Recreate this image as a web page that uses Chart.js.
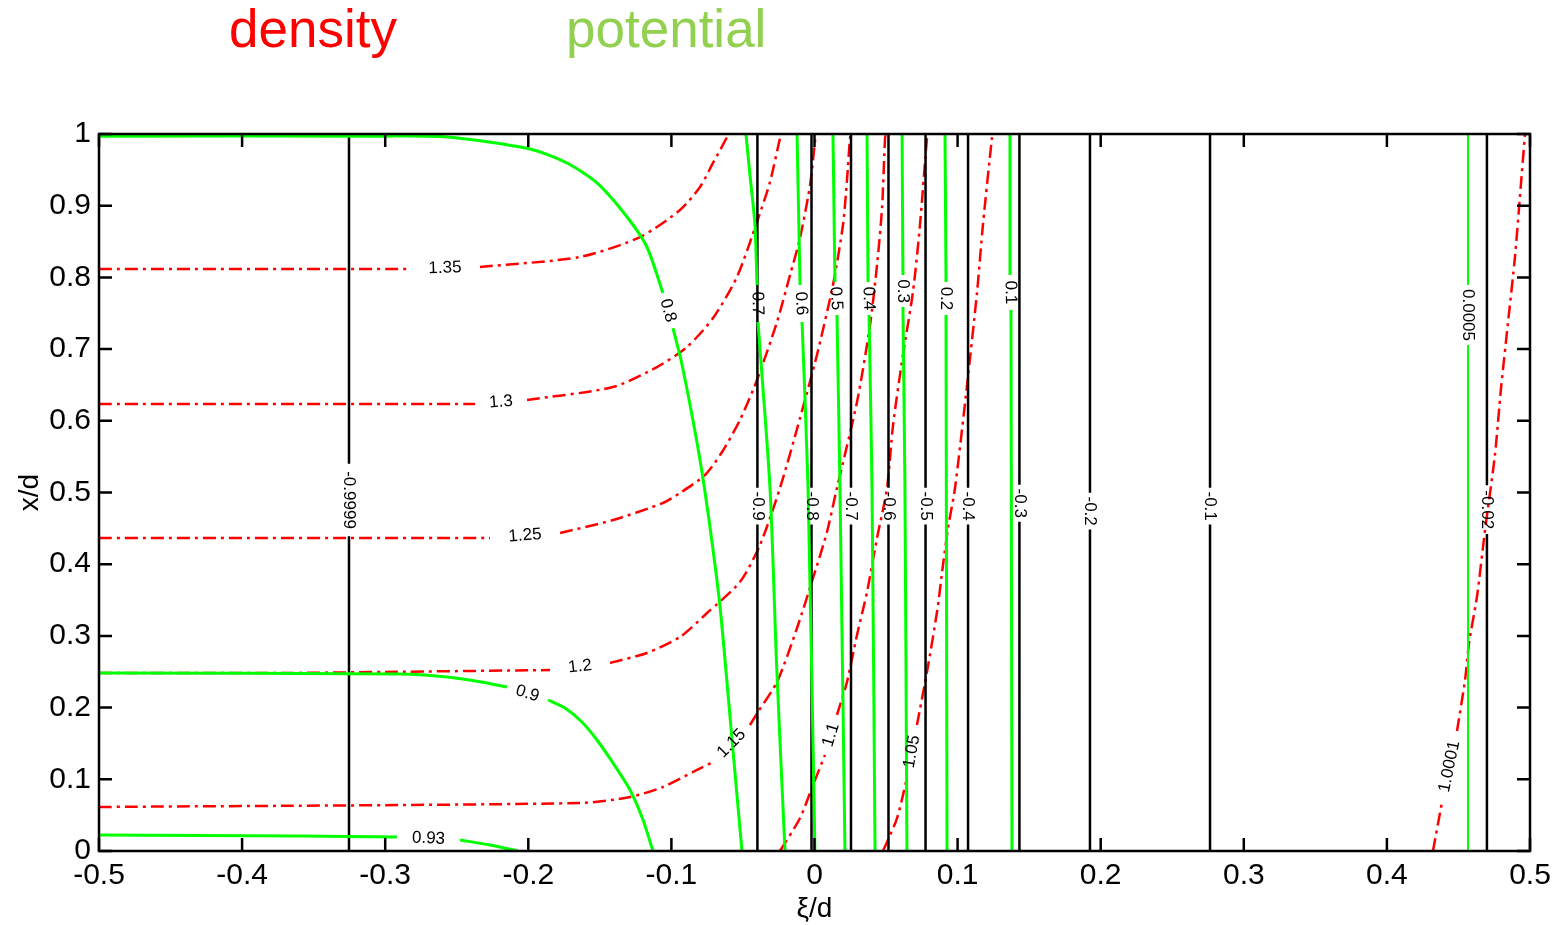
<!DOCTYPE html>
<html>
<head>
<meta charset="utf-8">
<script src="https://cdn.jsdelivr.net/npm/chart.js@4.4.0/dist/chart.umd.min.js"></script>
<style>
  html, body { margin: 0; padding: 0; background: #ffffff; }
  canvas { display: block; }
</style>
</head>
<body>
<canvas id="c" width="1566" height="925"></canvas>
<script>
// ---- axis ticks ----
const xTickValues = [-0.5, -0.4, -0.3, -0.2, -0.1, 0, 0.1, 0.2, 0.3, 0.4, 0.5];
const xTickLabels = ['-0.5', '-0.4', '-0.3', '-0.2', '-0.1', '0', '0.1', '0.2', '0.3', '0.4', '0.5'];
const yTickValues = [0, 0.1, 0.2, 0.3, 0.4, 0.5, 0.6, 0.7, 0.8, 0.9, 1];
const yTickLabels = ['0', '0.1', '0.2', '0.3', '0.4', '0.5', '0.6', '0.7', '0.8', '0.9', '1'];

// ---- density contours [xi/d, x/d]; null = break where the level label sits ----
const density135 = [[-0.5, 0.8117], [-0.2827, 0.8117], null, [-0.2338, 0.8145], [-0.1639, 0.8285], [-0.1219, 0.8563], [-0.0940, 0.8940], [-0.0800, 0.9261], [-0.0709, 0.9596], [-0.0611, 0.9958], [-0.0604, 1.0]];
const density130 = [[-0.5, 0.6234], [-0.2372, 0.6234], null, [-0.2009, 0.6290], [-0.1408, 0.6471], [-0.1101, 0.6750], [-0.0891, 0.7029], [-0.0709, 0.7434], [-0.0542, 0.8006], [-0.0402, 0.8773], [-0.0311, 0.9331], [-0.0241, 0.9944], [-0.0234, 1.0]];
const density125 = [[-0.5, 0.4365], [-0.2268, 0.4365], null, [-0.1778, 0.4435], [-0.1408, 0.4616], [-0.1059, 0.4854], [-0.0940, 0.4993], [-0.0765, 0.5244], [-0.0646, 0.5565], [-0.0521, 0.6011], [-0.0402, 0.6569], [-0.0262, 0.7378], [-0.0171, 0.8033], [-0.0101, 0.8550], [-0.0031, 0.9289], [0.0003, 0.9888], [0.0010, 1.0]];
const density120 = [[-0.5, 0.2483], [-0.37, 0.2483], [-0.30, 0.2497], [-0.1848, 0.2524], null, [-0.1429, 0.2622], [-0.1171, 0.2762], [-0.0940, 0.2985], [-0.0751, 0.3319], [-0.0521, 0.3752], [-0.0381, 0.4268], [-0.0241, 0.5063], [-0.0101, 0.6039], [0.0017, 0.6918], [0.0129, 0.7894], [0.0199, 0.8731], [0.0227, 0.9358], [0.0248, 0.9944], [0.0255, 1.0]];
const density115 = [[-0.5, 0.0614], [-0.1639, 0.0669], [-0.1289, 0.0753], [-0.1059, 0.0893], [-0.0821, 0.1130], [-0.0709, 0.1241], null, [-0.0451, 0.1757], [-0.0395, 0.1939], [-0.0262, 0.2357], [-0.0122, 0.3110], [-0.0010, 0.3808], [0.0087, 0.4449], [0.0157, 0.5063], [0.0297, 0.6262], [0.0388, 0.7336], [0.0437, 0.8173], [0.0472, 0.8968], [0.0493, 0.9944], [0.0500, 1.0]];
const density110 = [[-0.0241, 0], [-0.0101, 0.0460], [-0.0010, 0.0921], [0.0073, 0.1339], null, [0.0157, 0.1897], [0.0227, 0.2357], [0.0297, 0.3013], [0.0367, 0.3612], [0.0437, 0.4365], [0.0507, 0.5063], [0.0549, 0.5941], [0.0618, 0.6918], [0.0688, 0.7796], [0.0737, 0.8731], [0.0786, 0.9944], [0.0793, 1.0]];
const density105 = [[0.0479, 0], [0.0577, 0.0460], [0.0646, 0.1018], null, [0.0716, 0.1757], [0.0786, 0.2497], [0.0856, 0.3333], [0.0898, 0.3989], [0.0933, 0.4505], [0.0982, 0.5063], [0.1066, 0.6499], [0.1136, 0.7796], [0.1177, 0.8731], [0.1240, 0.9944], [0.1247, 1.0]];
const density10001 = [[0.4322, 0], [0.4385, 0.0683], null, [0.4490, 0.1674], [0.4546, 0.2385], [0.4574, 0.2901], [0.4630, 0.3556], [0.4686, 0.4477], [0.4755, 0.5523], [0.4797, 0.6444], [0.4846, 0.7364], [0.4895, 0.8285], [0.4930, 0.9135], [0.4965, 1.0]];
const densityLevels = ['1.35', '1.3', '1.25', '1.2', '1.15', '1.1', '1.05', '1.0001'];
const densityCurves = [density135, density130, density125, density120, density115, density110, density105, density10001];

// ---- potential contours ----
const potential08 = [[-0.5, 0.997], [-0.3036, 0.997], [-0.2568, 0.9958], [-0.1988, 0.9791], [-0.1730, 0.9596], [-0.1520, 0.9317], [-0.1310, 0.8842], [-0.1171, 0.8424], [-0.1059, 0.7782], null, [-0.0989, 0.7294], [-0.0933, 0.6848], [-0.0863, 0.6151], [-0.0800, 0.5453], [-0.0737, 0.4616], [-0.0660, 0.3403], [-0.0570, 0.1409], [-0.0507, 0]];
const potential09 = [[-0.5, 0.2483], [-0.2897, 0.2469], [-0.2568, 0.2427], [-0.2338, 0.2361], [-0.2149, 0.2287], null, [-0.1862, 0.2106], [-0.1744, 0.1994], [-0.1625, 0.1799], [-0.1520, 0.1548], [-0.1408, 0.1227], [-0.1289, 0.0851], [-0.1198, 0.0432], [-0.1129, 0]];
const potential093 = [[-0.5, 0.0223], [-0.3595, 0.0209], [-0.2918, 0.0195], null, [-0.2477, 0.0153], [-0.2268, 0.0084], [-0.2072, 0]];
const potential07 = [[-0.0479, 1], [-0.0451, 0.9428], [-0.0416, 0.8731], [-0.0402, 0.7894], null, [-0.0395, 0.7378], [-0.0311, 0.5063], [-0.0264, 0.2552], [-0.0206, 0]];
const potential06 = [[-0.0122, 1], [-0.0101, 0.7894], null, [-0.0087, 0.7378], [-0.0045, 0.5063], [0.0003, 0]];
const potential05 = [[0.0129, 1], [0.0143, 0.7936], null, [0.0157, 0.7476], [0.0178, 0.5063], [0.0213, 0]];
const potential04 = [[0.0367, 1], [0.0374, 0.7936], null, [0.0381, 0.7476], [0.0402, 0.5063], [0.0423, 0]];
const potential03 = [[0.0612, 1], [0.0618, 0.8033], null, [0.0618, 0.7587], [0.0632, 0.5063], [0.0646, 0]];
const potential02 = [[0.0912, 1], [0.0919, 0.7936], null, [0.0919, 0.7476], [0.0926, 0]];
const potential01 = [[0.1366, 1], [0.1366, 0.8033], null, [0.1373, 0.7545], [0.1380, 0]];
const potential00005 = [[0.4567, 1], [0.4567, 0.7894], null, [0.4567, 0.7057], [0.4567, 0]];
const potentialLevels = ['0.8', '0.9', '0.93', '0.7', '0.6', '0.5', '0.4', '0.3', '0.2', '0.1', '0.0005'];
const potentialCurves = [potential08, potential09, potential093, potential07, potential06, potential05, potential04, potential03, potential02, potential01, potential00005];

// ---- vertical (black) contours: level, xi/d position, height of the label ----
const fieldLevels = ['-0.9999', '-0.9', '-0.8', '-0.7', '-0.6', '-0.5', '-0.4', '-0.3', '-0.2', '-0.1', '-0.02'];
const fieldXi = [-0.3253, -0.0399, -0.0021, 0.0255, 0.0517, 0.0776, 0.1073, 0.1432, 0.1925, 0.2764, 0.4699];
const fieldLabelY = [0.4895, 0.481, 0.481, 0.481, 0.481, 0.481, 0.481, 0.485, 0.474, 0.481, 0.476];

const LABEL_FONT = '17px "Liberation Sans", Arial, sans-serif';

function toPoints(arr) {
  return arr.map(p => (p ? { x: p[0], y: p[1] } : { x: null, y: null }));
}

// a vertical contour runs top to bottom, broken around its label
function fieldLine(xi, ly, text) {
  const half = 0.0083 * text.length - 0.0075;
  return [[xi, 1], [xi, ly + half], null, [xi, ly - half], [xi, 0]];
}

const datasets = [];

potentialCurves.forEach((c, i) => {
  datasets.push({
    data: toPoints(c),
    contourLabel: potentialLevels[i],
    showLine: true,
    borderColor: '#00ff00',
    borderWidth: potentialLevels[i] === '0.0005' ? 2 : 3,
    pointRadius: 0,
    tension: 0.25,
    order: 0
  });
});

fieldLevels.forEach((lvl, i) => {
  datasets.push({
    data: toPoints(fieldLine(fieldXi[i], fieldLabelY[i], lvl)),
    contourLabel: lvl,
    showLine: true,
    borderColor: '#000000',
    borderWidth: 2.5,
    pointRadius: 0,
    tension: 0,
    order: 1
  });
});

densityCurves.forEach((c, i) => {
  datasets.push({
    data: toPoints(c),
    contourLabel: densityLevels[i],
    showLine: true,
    borderColor: '#ff0000',
    borderWidth: 2.5,
    borderDash: [13, 5, 3, 5],
    pointRadius: 0,
    tension: 0.25,
    order: 2
  });
});

// level labels, placed in each contour's break and turned along it
const contourLabels = {
  id: 'contourLabels',
  afterDatasetsDraw(chart) {
    const { ctx, scales: { x, y } } = chart;
    ctx.save();
    ctx.font = LABEL_FONT;
    ctx.fillStyle = '#000000';
    ctx.textAlign = 'center';
    ctx.textBaseline = 'middle';
    chart.data.datasets.forEach(ds => {
      const pts = ds.data;
      const k = pts.findIndex(p => p.x === null);
      if (k < 1) return;
      const a = pts[k - 1], b = pts[k + 1];
      const ax = x.getPixelForValue(a.x), ay = y.getPixelForValue(a.y);
      const bx = x.getPixelForValue(b.x), by = y.getPixelForValue(b.y);
      let ang = Math.atan2(by - ay, bx - ax);
      if (ang > Math.PI / 2 + 1e-6) ang -= Math.PI;
      if (ang <= -Math.PI / 2) ang += Math.PI;
      ctx.save();
      ctx.translate((ax + bx) / 2, (ay + by) / 2);
      ctx.rotate(ang);
      ctx.fillText(ds.contourLabel, 0, 0);
      ctx.restore();
    });
    ctx.restore();
  }
};

// box frame with inward tick marks on all four sides
const frame = {
  id: 'frame',
  afterDatasetsDraw(chart) {
    const { ctx, chartArea: { left, right, top, bottom }, scales: { x, y } } = chart;
    const len = 13;
    ctx.save();
    ctx.strokeStyle = '#000000';
    ctx.lineWidth = 2.5;
    ctx.strokeRect(left, top, right - left, bottom - top);
    ctx.beginPath();
    x.ticks.forEach(t => {
      const px = x.getPixelForValue(t.value);
      ctx.moveTo(px, bottom); ctx.lineTo(px, bottom - len);
      ctx.moveTo(px, top); ctx.lineTo(px, top + len);
    });
    y.ticks.forEach(t => {
      const py = y.getPixelForValue(t.value);
      ctx.moveTo(left, py); ctx.lineTo(left + len, py);
      ctx.moveTo(right, py); ctx.lineTo(right - len, py);
    });
    ctx.stroke();
    ctx.restore();
  }
};

// the two quantity names above the plot
const heading = {
  id: 'heading',
  afterDraw(chart) {
    const { ctx } = chart;
    ctx.save();
    ctx.font = '53px "Liberation Sans", Arial, sans-serif';
    ctx.textBaseline = 'alphabetic';
    ctx.textAlign = 'left';
    ctx.fillStyle = '#ff0000';
    ctx.fillText('density', 229, 47);
    ctx.fillStyle = '#92d050';
    ctx.fillText('potential', 566, 47);
    ctx.restore();
  }
};

new Chart(document.getElementById('c'), {
  type: 'scatter',
  data: { datasets },
  options: {
    responsive: false,
    devicePixelRatio: 1,
    animation: false,
    layout: { padding: { top: 134, right: 36, left: 0, bottom: 0 } },
    plugins: { legend: { display: false }, tooltip: { enabled: false } },
    scales: {
      x: {
        type: 'linear',
        position: 'bottom',
        min: -0.5,
        max: 0.5,
        grid: { display: false, drawTicks: false },
        border: { display: false },
        afterBuildTicks: s => { s.ticks = xTickValues.map(v => ({ value: v })); },
        afterFit: s => { s.height = 74; },
        ticks: {
          autoSkip: false,
          maxRotation: 0,
          padding: 7,
          color: '#000000',
          font: { family: '"Liberation Sans", Arial, sans-serif', size: 30 },
          callback: (v, i) => xTickLabels[i]
        },
        title: {
          display: true,
          text: 'ξ/d',
          color: '#000000',
          padding: { top: 0, bottom: -1 },
          font: { family: '"Liberation Sans", Arial, sans-serif', size: 28 }
        }
      },
      y: {
        type: 'linear',
        min: 0,
        max: 1,
        grid: { display: false, drawTicks: false },
        border: { display: false },
        afterBuildTicks: s => { s.ticks = yTickValues.map(v => ({ value: v })); },
        afterFit: s => { s.width = 99; },
        ticks: {
          autoSkip: false,
          padding: 8,
          color: '#000000',
          font: { family: '"Liberation Sans", Arial, sans-serif', size: 30 },
          callback: (v, i) => yTickLabels[i]
        },
        title: {
          display: true,
          text: 'x/d',
          color: '#000000',
          padding: { top: 13, bottom: 0 },
          font: { family: '"Liberation Sans", Arial, sans-serif', size: 28 }
        }
      }
    }
  },
  plugins: [contourLabels, frame, heading]
});
</script>
</body>
</html>
